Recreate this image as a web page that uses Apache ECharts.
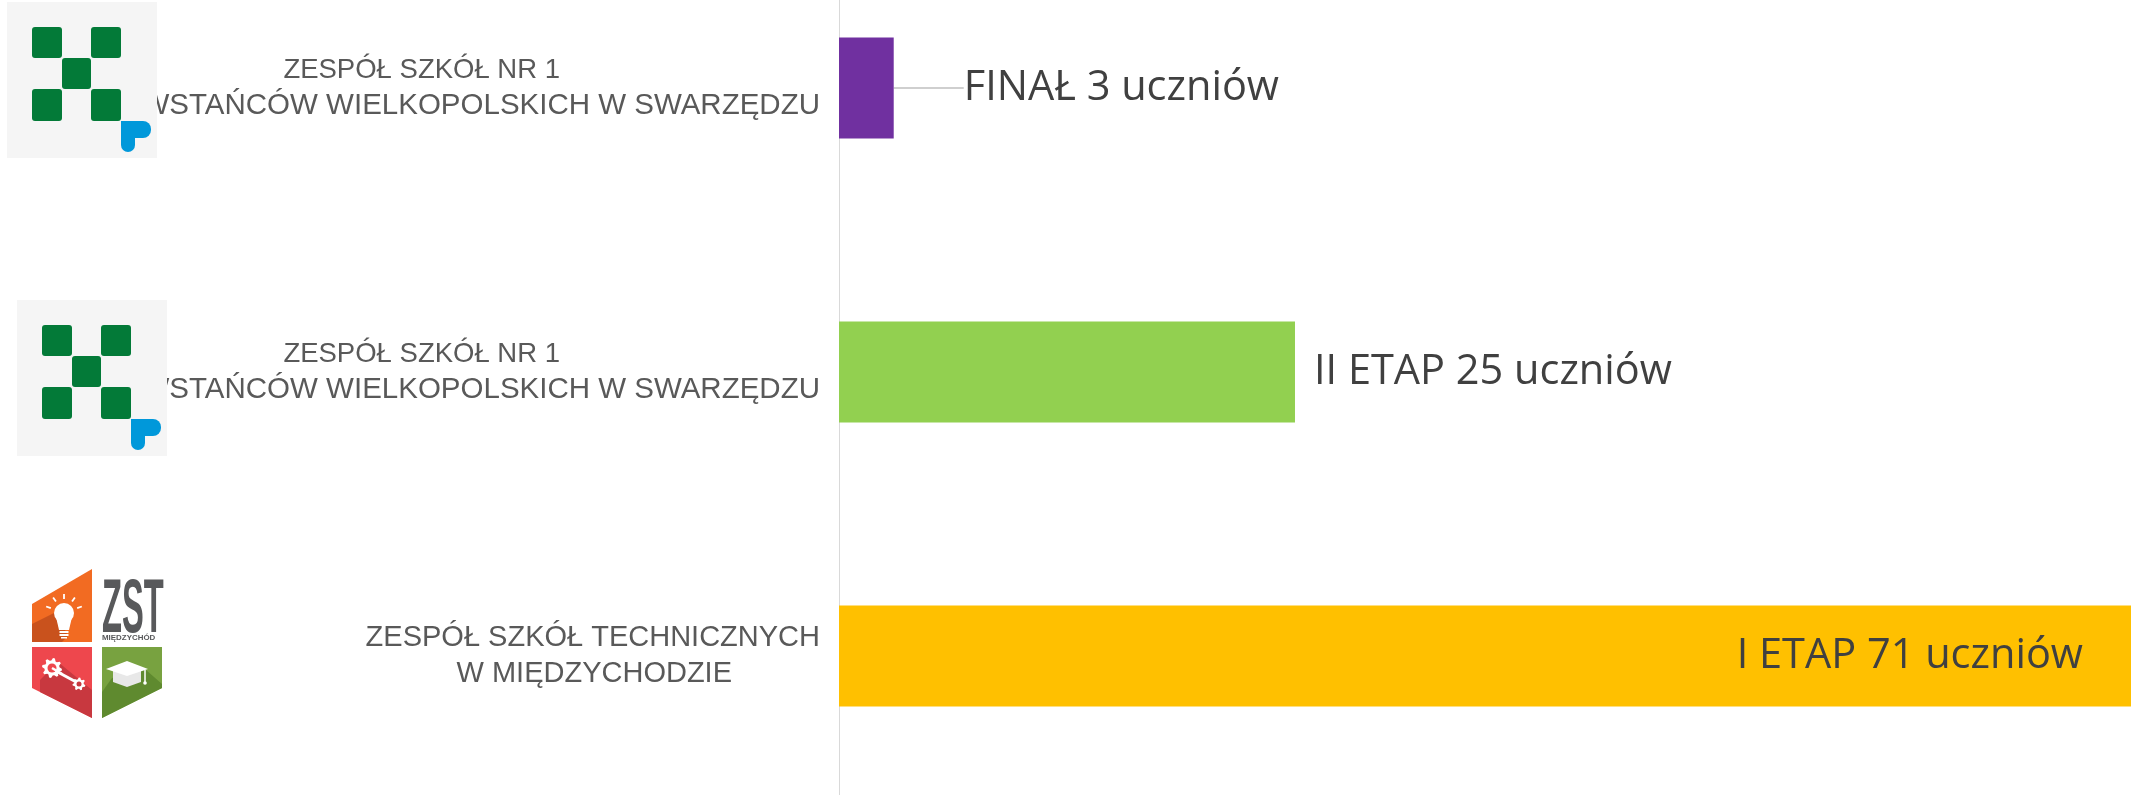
<!DOCTYPE html>
<html>
<head>
<meta charset="utf-8">
<script src="https://cdn.jsdelivr.net/npm/echarts@6/dist/echarts.min.js"></script>
<style>
html,body{margin:0;padding:0;background:#fff;}
#chart{width:2131px;height:795px;}
</style>
</head>
<body>
<div id="chart"></div>
<script>
// ---- data ----
const stages = ['I ETAP', 'II ETAP', 'FINAŁ'];
const students = [71, 25, 3];
const schoolLine1 = ['ZESPÓŁ SZKÓŁ TECHNICZNYCH', 'ZESPÓŁ SZKÓŁ NR 1', 'ZESPÓŁ SZKÓŁ NR 1'];
const schoolLine2 = ['W MIĘDZYCHODZIE', 'POWSTAŃCÓW WIELKOPOLSKICH W SWARZĘDZU', 'POWSTAŃCÓW WIELKOPOLSKICH W SWARZĘDZU'];
const unitWord = 'uczniów';

// ---- styles ----
const barColors = ['#FFC000', '#92D050', '#7030A0'];
const catFont = '"Liberation Sans", Arial, sans-serif';
const valFont = '"Open Sans", "Noto Sans", sans-serif';

const chart = echarts.init(document.getElementById('chart'));

function gear(cx, cy, rOut, rIn, teeth, rot) {
  const pts = [];
  const n = teeth * 4;
  for (let i = 0; i < n; i++) {
    const a = rot + (i / n) * Math.PI * 2;
    const r = (i % 4 < 2) ? rOut : rIn;
    pts.push([cx + r * Math.cos(a), cy + r * Math.sin(a)]);
  }
  return pts;
}

function swLogo(ox, oy) {
  const g = '#037A38';
  return [
    { type: 'rect', shape: { x: ox, y: oy, width: 150, height: 156 }, style: { fill: '#F5F5F5' } },
    { type: 'rect', shape: { x: ox + 25, y: oy + 25, width: 30, height: 31, r: 3 }, style: { fill: g } },
    { type: 'rect', shape: { x: ox + 84, y: oy + 25, width: 30, height: 31, r: 3 }, style: { fill: g } },
    { type: 'rect', shape: { x: ox + 55, y: oy + 56, width: 29, height: 31, r: 3 }, style: { fill: g } },
    { type: 'rect', shape: { x: ox + 25, y: oy + 87, width: 30, height: 32, r: 3 }, style: { fill: g } },
    { type: 'rect', shape: { x: ox + 84, y: oy + 87, width: 30, height: 32, r: 3 }, style: { fill: g } },
    { type: 'rect', shape: { x: ox + 114, y: oy + 119, width: 30, height: 17, r: [0, 8, 8, 0] }, style: { fill: '#0098DA' } },
    { type: 'rect', shape: { x: ox + 114, y: oy + 119, width: 14, height: 31, r: [0, 0, 7, 7] }, style: { fill: '#0098DA' } }
  ];
}

function zstLogo() {
  const els = [];
  // orange
  els.push({ type: 'polygon', shape: { points: [[32, 604], [92, 569], [92, 642], [32, 642]] }, style: { fill: '#F26B22' } });
  els.push({ type: 'polygon', shape: { points: [[32, 624], [56, 612], [68, 636], [62, 642], [32, 642]] }, style: { fill: '#C9521D' } });
  els.push({ type: 'circle', shape: { cx: 64, cy: 613, r: 10 }, style: { fill: '#fff' } });
  els.push({ type: 'polygon', shape: { points: [[56, 617], [72, 617], [69, 630], [59, 630]] }, style: { fill: '#fff' } });
  els.push({ type: 'rect', shape: { x: 59.5, y: 631, width: 9, height: 2 }, style: { fill: '#fff' } });
  els.push({ type: 'rect', shape: { x: 59.5, y: 634, width: 9, height: 2 }, style: { fill: '#fff' } });
  els.push({ type: 'rect', shape: { x: 61, y: 637, width: 6, height: 1.5 }, style: { fill: '#fff' } });
  [-160, -125, -90, -55, -20].forEach(function (deg) {
    const a = deg * Math.PI / 180;
    els.push({ type: 'line', shape: { x1: 64 + 14 * Math.cos(a), y1: 613 + 14 * Math.sin(a), x2: 64 + 19 * Math.cos(a), y2: 613 + 19 * Math.sin(a) }, style: { stroke: '#fff', lineWidth: 1.8 } });
  });
  // ZST text
  els.push({ type: 'text', x: 102, y: 573, scaleX: 0.43, style: { text: 'ZST', font: 'bold 76px "Liberation Sans", Arial', fill: '#58595B', textVerticalAlign: 'top' } });
  els.push({ type: 'text', x: 102, y: 635, scaleX: 1.22, style: { text: 'MIĘDZYCHÓD', font: 'bold 6.5px "Liberation Sans", Arial', fill: '#58595B', textVerticalAlign: 'top' } });
  // red
  els.push({ type: 'polygon', shape: { points: [[32, 647], [92, 647], [92, 718], [32, 688]] }, style: { fill: '#EE474D' } });
  els.push({ type: 'polygon', shape: { points: [[40, 680], [58, 662], [92, 690], [92, 718], [40, 692]] }, style: { fill: '#C8383F' } });
  els.push({ type: 'line', shape: { x1: 54, y1: 670, x2: 78, y2: 683 }, style: { stroke: '#fff', lineWidth: 3 } });
  els.push({ type: 'polygon', shape: { points: gear(52, 668, 10, 7.5, 8, 0.1) }, style: { fill: '#fff' } });
  els.push({ type: 'circle', shape: { cx: 52, cy: 668, r: 4.5 }, style: { fill: '#EE474D' } });
  els.push({ type: 'line', shape: { x1: 52, y1: 668, x2: 62, y2: 674 }, style: { stroke: '#fff', lineWidth: 2.5 } });
  els.push({ type: 'polygon', shape: { points: gear(79, 684, 6.5, 4.8, 7, 0.2) }, style: { fill: '#fff' } });
  els.push({ type: 'circle', shape: { cx: 79, cy: 684, r: 2.5 }, style: { fill: '#C8383F' } });
  // green
  els.push({ type: 'polygon', shape: { points: [[102, 647], [162, 647], [162, 688], [102, 718]] }, style: { fill: '#78A240' } });
  els.push({ type: 'polygon', shape: { points: [[112, 678], [146, 670], [162, 684], [162, 688], [102, 718], [102, 692]] }, style: { fill: '#5F8A2F' } });
  els.push({ type: 'polygon', shape: { points: [[113, 671], [141, 671], [141, 682], [127, 687], [113, 682]] }, style: { fill: '#E8E8E8' } });
  els.push({ type: 'polygon', shape: { points: [[106, 669], [127, 661], [148, 669], [127, 676]] }, style: { fill: '#fff' } });
  els.push({ type: 'line', shape: { x1: 145, y1: 670, x2: 145, y2: 682 }, style: { stroke: '#fff', lineWidth: 1.5 } });
  els.push({ type: 'circle', shape: { cx: 145, cy: 683, r: 1.8 }, style: { fill: '#fff' } });
  return els;
}

const logoEls = [].concat(swLogo(7, 2), swLogo(17, 300), zstLogo()).map(function (el) {
  el.z = 100;
  el.zlevel = 1;
  return el;
});

const seriesData = students.map(function (v, i) {
  const item = { value: v, itemStyle: { color: barColors[i] } };
  if (i === 0) {
    item.label = { position: 'insideRight', distance: 51 };
  } else if (i === 1) {
    item.label = { position: 'right', distance: 19 };
  } else {
    item.label = { position: 'right', distance: 5 };
    item.labelLine = { show: true, lineStyle: { color: '#BFBFBF', width: 1.5 } };
  }
  return item;
});

const option = {
  backgroundColor: '#ffffff',
  animation: false,
  grid: { left: 839, top: -54, width: 1295, height: 852, containLabel: false, outerBoundsMode: 'none' },
  xAxis: {
    type: 'value', min: 0, max: 71,
    show: false
  },
  yAxis: {
    type: 'category',
    data: stages,
    axisLine: { show: true, lineStyle: { color: '#D9D9D9', width: 1 } },
    axisTick: { show: false },
    splitLine: { show: false },
    axisLabel: {
      margin: 19,
      color: '#595959',
      fontFamily: catFont,
      fontSize: 29,
      lineHeight: 36,
      formatter: function (val, idx) {
        const k = idx === 0 ? 't' : 's';
        return '{' + k + '1|' + schoolLine1[idx] + '}\n{' + k + '2|' + schoolLine2[idx] + '}';
      },
      rich: {
        s1: { fontFamily: catFont, fontSize: 27.5, lineHeight: 36, color: '#595959', padding: [0, 260, 0, 0] },
        s2: { fontFamily: catFont, fontSize: 29.5, lineHeight: 36, color: '#595959' },
        t1: { fontFamily: catFont, fontSize: 29, lineHeight: 36, color: '#595959' },
        t2: { fontFamily: catFont, fontSize: 29, lineHeight: 36, color: '#595959', padding: [0, 88, 0, 0] }
      }
    }
  },
  series: [{
    type: 'bar',
    barWidth: 101,
    data: seriesData,
    label: {
      show: true,
      fontFamily: valFont,
      fontSize: 41.5,
      color: '#404040',
      formatter: function (p) { return stages[p.dataIndex] + ' ' + p.value + ' ' + unitWord; }
    },
    labelLayout: function (p) {
      if (p.dataIndex === 2) { return { dx: 65 }; }
      return {};
    }
  }],
  graphic: { elements: logoEls }
};
chart.setOption(option);
</script>
</body>
</html>
